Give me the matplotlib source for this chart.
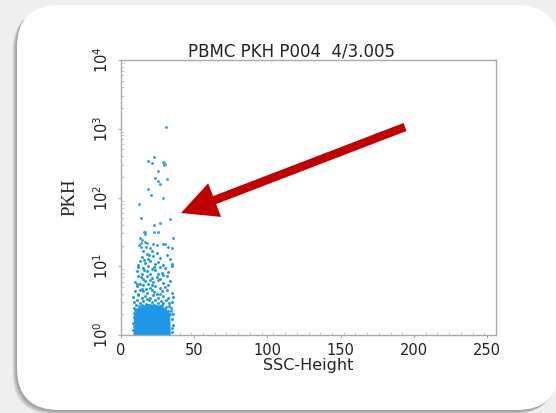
import matplotlib
matplotlib.use("Agg")
import matplotlib.pyplot as plt
from matplotlib.patches import FancyBboxPatch, FancyArrow
from matplotlib.transforms import IdentityTransform
from matplotlib.ticker import FixedLocator, LogLocator, NullFormatter, MultipleLocator

# ---------------- data ----------------
title = "PBMC PKH P004  4/3.005"
x_label = "SSC-Height"
y_label = "PKH"
x_ticks = [0, 50, 100, 150, 200, 250]
x_tick_labels = ["0", "50", "100", "150", "200", "250"]
y_ticks = [1, 10, 100, 1000, 10000]
y_tick_labels = [r"$10^{0}$", r"$10^{1}$", r"$10^{2}$", r"$10^{3}$", r"$10^{4}$"]

# sparse events (SSC-Height, PKH)
sparse_ssc = [30.5, 22.3, 18.4, 21.2, 28.5, 29.1, 30.0, 29.6, 25.3, 23.4, 31.4, 25.3, 26.4,
              18.4, 20.3, 28.5, 12.1, 13.4, 33.4, 26.6, 22.5, 15.7, 16.6, 16.2, 22.5, 25.5,
              13.0, 14.3, 13.4, 12.5, 13.9, 16.4, 17.5, 28.5, 30.3, 32.3, 34.6, 35.3, 22.0,
              24.4, 19.8, 17.1]
sparse_pkh = [1072, 385, 343, 321, 331, 314, 302, 295, 240, 191, 186, 172, 155,
              134, 109, 98, 80, 51, 49, 43, 40, 32, 31, 29, 31, 31,
              25.5, 24, 21.9, 20.4, 19.3, 22.8, 21.9, 21.4, 21.4, 19.3, 18.6, 26, 21.4,
              20.4, 18.2, 18.8]

# cloud events (SSC-Height, PKH)
cloud_ssc = [15.2, 17.5, 21.0, 24.4, 31.2, 19.3,
             14.1, 18.6, 22.0, 26.6, 33.4, 16.0,
             13.0, 16.4, 19.8, 23.2, 25.5, 28.9, 35.0, 11.5,
             11.8, 15.2, 18.6, 20.9, 26.6, 30.0, 34.6, 22.8,
             10.7, 14.1, 17.5, 19.8, 23.2, 27.8, 32.3, 16.0, 25.0,
             11.8, 15.2, 17.5, 20.9, 24.3, 26.6, 31.2, 13.5, 28.9,
             9.6, 13.0, 16.4, 18.7, 22.1, 25.5, 28.9, 33.4, 20.0, 11.0,
             10.7, 14.1, 15.2, 19.8, 23.2, 26.6, 30.0, 32.3, 17.2, 21.5,
             9.6, 11.8, 15.2, 17.5, 20.9, 24.3, 27.8, 31.2, 34.6, 13.2, 22.6,
             8.4, 11.8, 14.1, 16.4, 19.8, 22.1, 25.5, 28.9, 32.3, 35.7, 18.0, 26.8,
             9.0, 10.9, 13.0, 15.0, 17.0, 19.0, 21.0, 23.0, 25.0, 27.0, 29.0, 31.0, 33.0, 34.8,
             8.6, 10.2, 12.1, 14.0, 16.1, 18.2, 20.3, 22.2, 24.1, 26.3, 28.2, 30.4, 32.5, 34.3,
             8.5, 8.3, 8.7, 9.2, 8.9, 9.4, 34.6, 35.2, 34.8, 35.4, 34.3, 35.0,
             11.0, 13.0, 15.5, 27.5, 30.0, 32.0, 33.5, 10.0]
cloud_pkh = [16.5, 15.2, 16.9, 15.6, 14.8, 14.6,
             13.8, 12.9, 14.1, 13.2, 12.7, 12.4,
             11.8, 11.0, 12.1, 10.8, 11.6, 10.6, 10.9, 10.4,
             9.9, 9.3, 10.2, 9.1, 9.7, 9.4, 10.0, 9.6,
             8.6, 7.8, 8.4, 7.6, 8.8, 8.0, 8.3, 8.9, 7.7,
             7.2, 6.6, 7.3, 6.8, 7.0, 6.5, 7.1, 6.9, 7.4,
             6.0, 5.6, 6.2, 5.5, 5.9, 6.3, 5.7, 6.1, 6.3, 5.5,
             5.1, 4.7, 5.3, 4.9, 5.2, 4.8, 5.0, 5.3, 4.6, 5.35,
             4.3, 4.0, 4.4, 4.1, 4.5, 4.0, 4.3, 4.5, 4.1, 4.55, 4.2,
             3.6, 3.8, 3.4, 3.7, 3.5, 3.85, 3.4, 3.7, 3.5, 3.6, 3.3, 3.9,
             3.0, 3.2, 2.9, 3.15, 2.85, 3.25, 3.0, 3.2, 2.9, 3.1, 2.95, 3.2, 2.9, 3.05,
             2.5, 2.7, 2.6, 2.75, 2.55, 2.7, 2.6, 2.75, 2.5, 2.65, 2.7, 2.55, 2.6, 2.45,
             1.2, 1.5, 1.8, 2.1, 1.35, 2.3, 1.1, 1.4, 1.7, 2.0, 2.2, 1.25,
             2.35, 2.45, 2.4, 2.35, 2.3, 2.25, 2.05, 2.1]

# outline of the saturated dense core (SSC-Height, PKH)
core_ssc = [8.8, 8.8, 10.0, 12.0, 16.0, 20.0, 24.0, 28.0, 31.0, 33.6, 34.0]
core_pkh = [1.0, 1.9, 2.2, 2.5, 2.7, 2.8, 2.75, 2.6, 2.4, 2.0, 1.0]

# ---------------- figure ----------------
W, H = 556, 413
fig = plt.figure(figsize=(W / 100, H / 100), dpi=100, facecolor="#efefef")

# card shadow + card (pixel coordinates)
cx0, cy0, cw, ch, rad = 17, 3, 542, 405, 42
for k in range(7):
    sh = FancyBboxPatch((cx0 - 1 - 0.6 * k, cy0 - 1.5 - 0.5 * k), cw, ch,
                        boxstyle=f"round,pad=0,rounding_size={rad}",
                        transform=IdentityTransform(), facecolor="black",
                        edgecolor="none", alpha=0.05, zorder=-12)
    fig.add_artist(sh)
card = FancyBboxPatch((cx0, cy0), cw, ch, boxstyle=f"round,pad=0,rounding_size={rad}",
                      transform=IdentityTransform(), facecolor="white",
                      edgecolor="none", zorder=-10)
fig.add_artist(card)

ax = fig.add_axes([121 / W, 1 - 335 / H, 375 / W, 275 / H])
ax.set_facecolor("white")
ax.set_yscale("log")
ax.set_xlim(0, 256)
ax.set_ylim(1, 1e4)

blue = "#1E98E8"
ax.fill(core_ssc, core_pkh, color=blue, lw=0, zorder=2)
ax.scatter(cloud_ssc, cloud_pkh, s=4.5, color=blue, lw=0, zorder=3)
ax.scatter(sparse_ssc, sparse_pkh, s=4.5, color="#3AA3E0", lw=0, zorder=3)

for sp in ax.spines.values():
    sp.set_color("#aaaaaa")
    sp.set_linewidth(1.0)

ax.xaxis.set_major_locator(FixedLocator(x_ticks))
ax.set_xticklabels(x_tick_labels)
ax.xaxis.set_minor_locator(MultipleLocator(8))
ax.yaxis.set_major_locator(FixedLocator(y_ticks))
ax.set_yticklabels(y_tick_labels)
ax.yaxis.set_minor_locator(LogLocator(base=10, subs=range(2, 10)))
ax.yaxis.set_minor_formatter(NullFormatter())

ax.tick_params(axis="both", which="major", length=2, color="#aaaaaa",
               labelsize=10.5, labelcolor="#222222")
ax.tick_params(axis="x", which="major", pad=4)
ax.tick_params(axis="y", which="major", pad=5)
ax.tick_params(axis="both", which="minor", length=2, color="#bbbbbb", direction="in")
for lab in ax.get_yticklabels():
    lab.set_rotation(90)
    lab.set_va("center")

fig.text(292 / W, 1 - 56 / H, title, ha="center", va="baseline",
         fontsize=12, color="#222222")
fig.text(308 / W, 1 - 370 / H, x_label, ha="center", va="baseline",
         fontsize=11.5, color="#222222")
fig.text(70 / W, 1 - 197 / H, y_label, ha="center", va="center", rotation=90,
         fontsize=13.5, family="Liberation Serif", color="#222222")

# red annotation arrow (pixel coordinates)
tail = (405, H - 127)
tip = (181, H - 213)
arrow = FancyArrow(tail[0], tail[1], tip[0] - tail[0], tip[1] - tail[1],
                   width=8.5, head_width=36, head_length=36,
                   length_includes_head=True, color="#C00000", lw=0,
                   transform=IdentityTransform(), zorder=20)
fig.add_artist(arrow)

fig.savefig("out.png", dpi=100, facecolor=fig.get_facecolor())
